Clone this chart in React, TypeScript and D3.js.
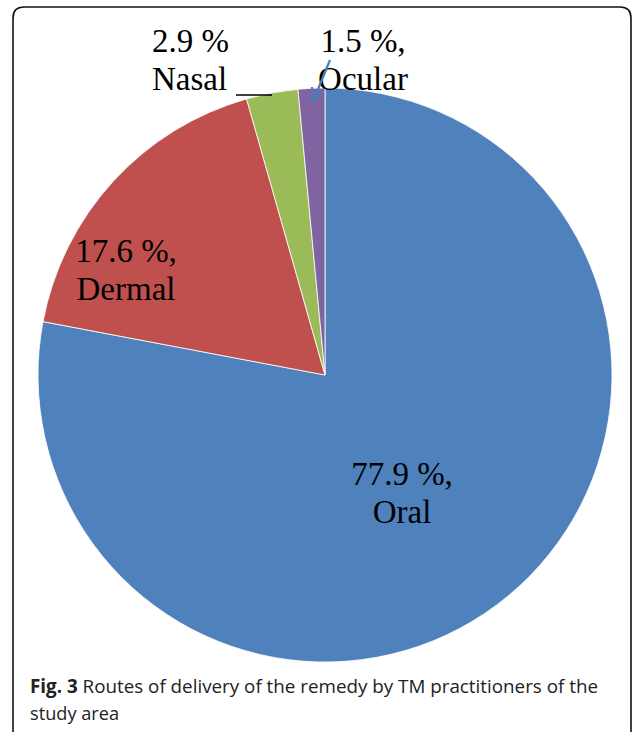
import React from "react";
import * as d3 from "d3";

const width = 637;
const height = 732;

// chart data
const routes = ["Oral", "Dermal", "Nasal", "Ocular"];
const shares = [77.9, 17.6, 2.9, 1.5];
const sliceColors = ["#4F81BD", "#C0504D", "#9BBB59", "#8064A2"];
const valueLabels = ["77.9 %,", "17.6 %,", "2.9 %", "1.5 %,"];

const cx = 325;
const cy = 375;
const radius = 287;

const serif = "'Liberation Serif', 'Times New Roman', serif";

export default function App() {
  const slices = d3
    .pie<number>()
    .sort(null)
    .value(d => d)(shares);

  const arc = d3
    .arc<d3.PieArcDatum<number>>()
    .innerRadius(0)
    .outerRadius(radius);

  // label positions (relative to pie centre), text anchor
  const labelPos: { x: number; y: number; anchor: string }[] = [
    { x: 77, y: 110, anchor: "middle" },
    { x: -199, y: -113, anchor: "middle" },
    { x: -173, y: -323, anchor: "start" },
    { x: 38, y: -323, anchor: "middle" }
  ];

  return (
    <svg width={width} height={height} style={{ position: "absolute", left: 0, top: 0 }}>
      <rect x={0} y={0} width={width} height={height} fill="#fff" />
      <path
        d={`M13,${height + 2} V18 Q13,7 24,7 H620 Q631,7 631,18 V${height + 2}`}
        fill="none"
        stroke="#111"
        strokeWidth={1.6}
      />
      <g transform={`translate(${cx},${cy})`}>
        {slices.map((s, i) => (
          <path key={routes[i]} d={arc(s) || ""} fill={sliceColors[i]} stroke="#fff" strokeWidth={0.8} />
        ))}
        {slices.map((s, i) => (
          <text
            key={"l" + i}
            fontFamily={serif}
            fontSize={33}
            fill="#000"
            textAnchor={labelPos[i].anchor}
          >
            <tspan x={labelPos[i].x} y={labelPos[i].y}>{valueLabels[i]}</tspan>
            <tspan x={labelPos[i].x} y={labelPos[i].y + 38}>{routes[i]}</tspan>
          </text>
        ))}
        {/* leader for Nasal */}
        <line x1={-89} y1={-280} x2={-53} y2={-280} stroke="#000" strokeWidth={1.5} />
        {/* arrow for Ocular */}
        <line x1={5} y1={-315} x2={-11} y2={-276} stroke="#4A7EBB" strokeWidth={2.2} />
        <path d="M-12,-273 L-13,-288 M-12,-273 L-2,-284" stroke="#4A7EBB" strokeWidth={2.2} fill="none" />
      </g>
      <text x={30} y={693} fontFamily="'Open Sans', sans-serif" fontSize={19} fill="#222" textLength={568} lengthAdjust="spacingAndGlyphs">
        <tspan fontWeight="bold">Fig. 3</tspan> Routes of delivery of the remedy by TM practitioners of the
      </text>
      <text x={30} y={720} fontFamily="'Open Sans', sans-serif" fontSize={19} fill="#222" textLength={89} lengthAdjust="spacingAndGlyphs">
        study area
      </text>
    </svg>
  );
}
